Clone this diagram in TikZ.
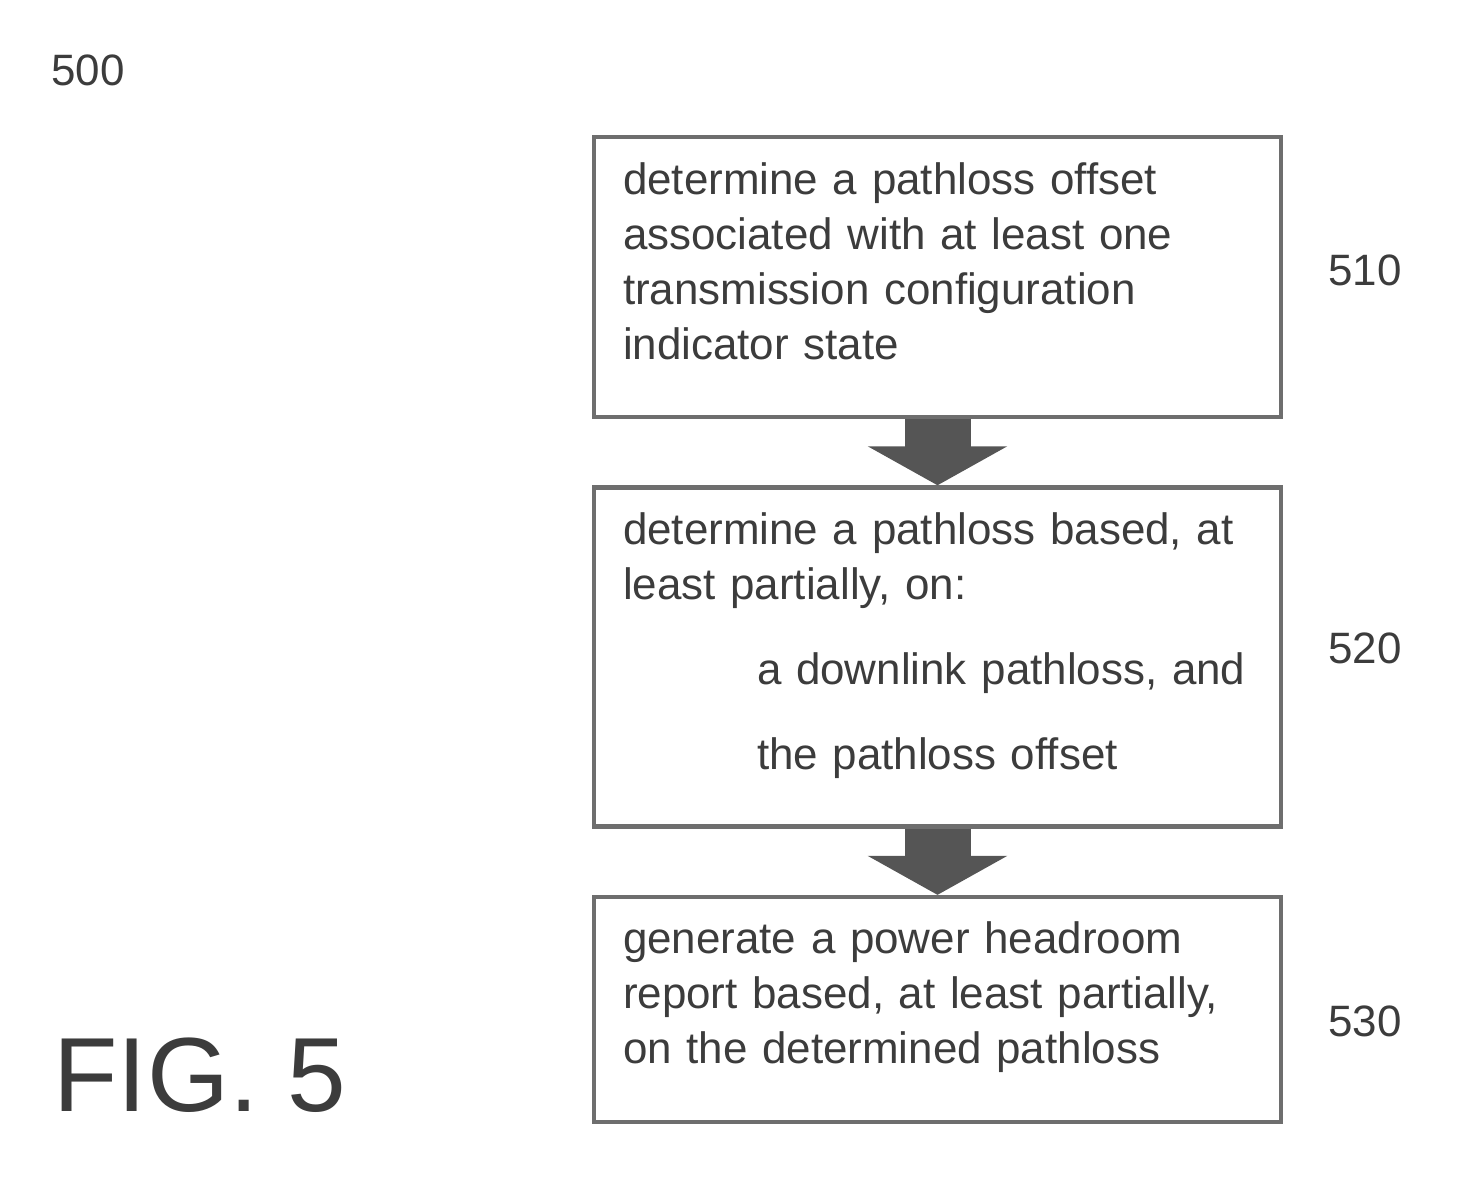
\documentclass[tikz,border=0pt]{standalone}
\usepackage{fontspec}
\setmainfont{Liberation Sans}
\usepackage{tikz}
\usetikzlibrary{positioning,arrows.meta}
\usepackage{xcolor}
\definecolor{boxgray}{RGB}{110,110,110}
\definecolor{textgray}{RGB}{60,60,60}
\definecolor{arrowgray}{RGB}{85,85,85}

\begin{document}
\begin{tikzpicture}[
    stepbox/.style={draw=boxgray, line width=2.6pt, minimum width=13.74cm, inner xsep=0.58cm,
      text width=12.58cm, align=left, text=textgray, font=\fontsize{25}{31.3}\selectfont},
    reflabel/.style={text=textgray, font=\fontsize{25}{30}\selectfont},
    fatarrow/.style={draw=arrowgray, line width=1.32cm,
      -{Triangle[length=0.78cm, width=2.76cm]}, arrowgray}]
  \useasboundingbox (0,0) rectangle (29.28,-23.94);
  % Boxes
  \node[stepbox, minimum height=5.6cm] (s510) at (18.75,-5.54)
    {determine a pathloss offset\\associated with at least one\\transmission configuration\\indicator state\par\vspace*{0.62cm}};
  \node[stepbox, minimum height=6.78cm, below=1.32cm of s510] (s520)
    {determine a pathloss based, at\\least partially, on:\\[0.6cm]
     \hspace*{2.68cm}a downlink pathloss, and\\[0.6cm]
     \hspace*{2.68cm}the pathloss offset\par\vspace*{0.46cm}};
  \node[stepbox, minimum height=4.5cm, below=1.32cm of s520] (s530)
    {generate a power headroom\\report based, at least partially,\\on the determined pathloss\par\vspace*{0.5cm}};
  % Arrows
  \draw[fatarrow] (s510.south) -- (s520.north);
  \draw[fatarrow] (s520.south) -- (s530.north);
  % Reference numbers
  \node[reflabel, right=0.78cm of s510, yshift=0.14cm] (n510) {510};
  \node[reflabel, right=0.78cm of s520, yshift=0.17cm] (n520) {520};
  \node[reflabel, right=0.78cm of s530, yshift=-0.23cm] (n530) {530};
  \node[reflabel] (n500) at (1.76,-1.40) {500};
  \node[text=textgray, font=\fontsize{60}{70}\selectfont] (fig) at (4.0,-21.5) {FIG. 5};
\end{tikzpicture}
\end{document}
